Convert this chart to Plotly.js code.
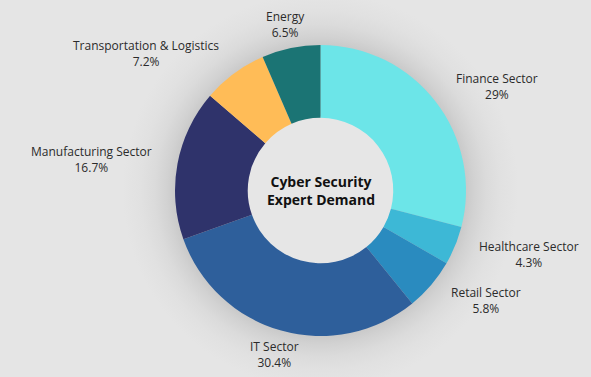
<!DOCTYPE html>
<html><head><meta charset="utf-8">
<script src="https://cdn.plot.ly/plotly-3.0.1.min.js"></script>
<style>
html,body{margin:0;padding:0;background:#e5e5e5;}
#chart{width:591px;height:377px;background:radial-gradient(circle at 320.5px 190.5px, #e6e6e6 0px, #e6e6e6 74px, #c9c9c9 75px, #c9c9c9 145px, #d2d2d2 154px, #dbdbdb 166px, #e1e1e1 180px, #e5e5e5 198px);}
</style></head><body><div id="chart"></div>
<script>
const labels = ['Finance Sector', 'Healthcare Sector', 'Retail Sector', 'IT Sector', 'Manufacturing Sector', 'Transportation & Logistics', 'Energy'];
const values = [29, 4.3, 5.8, 30.4, 16.7, 7.2, 6.5];
const colors = ['#6ce5e8', '#3db8d6', '#2a8bbf', '#2e5f9b', '#2f336b', '#ffbc57', '#1b7474'];
const centerTitle = 'Cyber Security<br>Expert Demand';

const W = 591, H = 377, cx = 320.5, cy = 190.5, R = 145.5, LR = 170;
const total = values.reduce((a, b) => a + b, 0);
const annotations = [];
let cum = 0;
values.forEach((v, i) => {
  const th = 2 * Math.PI * (cum + v / 2) / total;
  cum += v;
  const s = Math.sin(th), c = Math.cos(th);
  const px = cx + LR * s, py = cy - LR * c;
  annotations.push({
    xref: 'paper', yref: 'paper', x: px / W, y: 1 - py / H,
    xanchor: Math.abs(s) < 0.4 ? 'center' : (s > 0 ? 'left' : 'right'),
    yanchor: 'middle', showarrow: false, borderpad: 0, align: 'center',
    text: labels[i] + '<br>' + v + '%',
    font: {family: 'Open Sans', size: 12, color: '#2b2b2b'}
  });
});
annotations.push({
  xref: 'paper', yref: 'paper', x: cx / W, y: 1 - cy / H, xanchor: 'center', yanchor: 'middle',
  showarrow: false, text: '<b>' + centerTitle + '</b>', align: 'center',
  font: {family: 'Open Sans', size: 14, color: '#111111'}
});

const data = [{
  type: 'pie', labels: labels, values: values, hole: 0.5, sort: false,
  direction: 'clockwise', rotation: 0, textinfo: 'none', hoverinfo: 'none',
  marker: {colors: colors, line: {width: 0}},
  domain: {x: [(cx - R) / W, (cx + R) / W], y: [(H - cy - R) / H, (H - cy + R) / H]}
}];
const layout = {
  width: W, height: H, margin: {l: 0, r: 0, t: 0, b: 0},
  paper_bgcolor: 'rgba(0,0,0,0)', plot_bgcolor: 'rgba(0,0,0,0)',
  showlegend: false, annotations: annotations
};
Plotly.newPlot('chart', data, layout, {displayModeBar: false, staticPlot: true});
</script></body></html>
